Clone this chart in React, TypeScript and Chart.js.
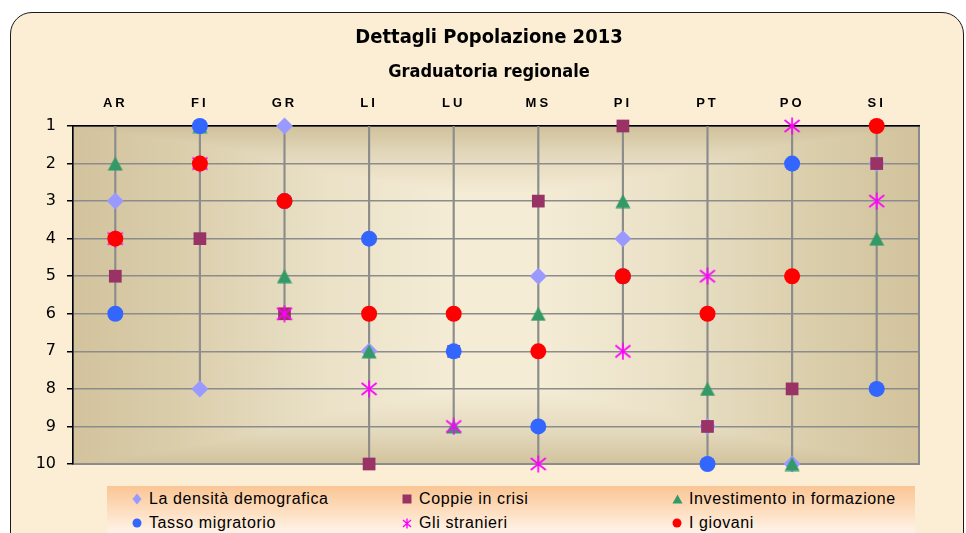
import React, { useEffect, useRef } from "react";
import { Chart, registerables } from "chart.js";

Chart.register(...registerables);

// ---------- data ----------
const regions = ["AR", "FI", "GR", "LI", "LU", "MS", "PI", "PT", "PO", "SI"];
const densita = [3, 8, 1, 7, 6, 5, 4, 9, 10, 2];
const coppie = [5, 4, 6, 10, 7, 3, 1, 9, 8, 2];
const investimento = [2, 1, 5, 7, 9, 6, 3, 8, 10, 4];
const tasso = [6, 1, 3, 4, 7, 9, 5, 10, 2, 8];
const stranieri = [4, 2, 6, 8, 9, 10, 7, 5, 1, 3];
const giovani = [4, 2, 3, 6, 6, 7, 5, 6, 5, 1];
const seriesNames = [
  "La densità demografica",
  "Coppie in crisi",
  "Investimento in formazione",
  "Tasso migratorio",
  "Gli stranieri",
  "I giovani",
];
const rankMin = 1;
const rankMax = 10;
const titleText = "Dettagli Popolazione 2013";
const subtitleText = "Graduatoria regionale";

const seriesValues = [densita, coppie, investimento, tasso, stranieri, giovani];
const seriesColors = ["#9999FF", "#993366", "#339966", "#3366FF", "#FF00FF", "#FF0000"];

function makeStar(color: string) {
  const c = document.createElement("canvas");
  c.width = 18;
  c.height = 18;
  const g = c.getContext("2d")!;
  g.strokeStyle = color;
  g.lineWidth = 1.7;
  g.beginPath();
  g.moveTo(9, 0.5);
  g.lineTo(9, 17.5);
  g.moveTo(1.5, 3);
  g.lineTo(16.5, 15);
  g.moveTo(16.5, 3);
  g.lineTo(1.5, 15);
  g.stroke();
  return c;
}

function makeTriangle(color: string) {
  const c = document.createElement("canvas");
  c.width = 16;
  c.height = 15;
  const g = c.getContext("2d")!;
  g.fillStyle = color;
  g.beginPath();
  g.moveTo(8, 0.5);
  g.lineTo(15.5, 14.5);
  g.lineTo(0.5, 14.5);
  g.closePath();
  g.fill();
  return c;
}

const plotBg = {
  id: "plotBg",
  beforeDraw(chart: any) {
    const { ctx, chartArea } = chart;
    const { left, top, right, bottom } = chartArea;
    const w = right - left;
    const h = bottom - top;
    ctx.save();
    const gh = ctx.createLinearGradient(left, 0, right, 0);
    gh.addColorStop(0, "#D2C39D");
    gh.addColorStop(0.12, "#DACDAA");
    gh.addColorStop(0.3, "#EAE1C7");
    gh.addColorStop(0.45, "#F5ECD6");
    gh.addColorStop(0.55, "#F5ECD6");
    gh.addColorStop(0.7, "#EAE1C7");
    gh.addColorStop(0.88, "#DACDAA");
    gh.addColorStop(1, "#D2C39D");
    ctx.fillStyle = gh;
    ctx.fillRect(left, top, w, h);
    ctx.globalCompositeOperation = "darken";
    const gv = ctx.createLinearGradient(0, top, 0, bottom);
    gv.addColorStop(0, "#D0C19B");
    gv.addColorStop(0.08, "#E2D7BA");
    gv.addColorStop(0.2, "#F5ECD6");
    gv.addColorStop(0.78, "#F5ECD6");
    gv.addColorStop(0.9, "#E4DABE");
    gv.addColorStop(1, "#D2C39D");
    ctx.fillStyle = gv;
    ctx.fillRect(left, top, w, h);
    ctx.globalCompositeOperation = "source-over";
    ctx.strokeStyle = "#8a8a8a";
    ctx.lineWidth = 2;
    ctx.strokeRect(left, top, w, h);
    ctx.restore();
  },
};

const xLetterSpacing = {
  id: "xLetterSpacing",
  afterDatasetsDraw(chart: any) {
    chart.ctx.letterSpacing = "3px";
  },
  afterDraw(chart: any) {
    chart.ctx.letterSpacing = "0px";
  },
};

function LegendMarker({ i }: { i: number }) {
  const c = seriesColors[i];
  if (i === 0)
    return (
      <svg width="10" height="12"><polygon points="5,0.5 9.5,6 5,11.5 0.5,6" fill={c} /></svg>
    );
  if (i === 1)
    return (
      <svg width="10" height="10"><rect x="0.5" y="0.5" width="9" height="9" fill={c} /></svg>
    );
  if (i === 2)
    return (
      <svg width="11" height="10"><polygon points="5.5,0.5 10.5,9.5 0.5,9.5" fill={c} /></svg>
    );
  if (i === 4)
    return (
      <svg width="10" height="11">
        <path d="M5 0.5 V10.5 M1 2 L9 9 M9 2 L1 9" stroke={c} strokeWidth="1.4" fill="none" />
      </svg>
    );
  return (
    <svg width="10" height="10"><circle cx="5" cy="5" r="4.5" fill={c} /></svg>
  );
}

export default function App() {
  const ref = useRef<HTMLCanvasElement>(null);

  useEffect(() => {
    const canvas = ref.current;
    if (!canvas) return;
    const styles: any[] = [
      "rectRot",
      "rect",
      makeTriangle(seriesColors[2]),
      "circle",
      makeStar(seriesColors[4]),
      "circle",
    ];
    const radii = [8.5, 9, 8, 8, 9, 8];

    const dropData = regions.map((_, i) => [
      rankMin,
      Math.max(...seriesValues.map((s) => s[i])),
    ]);

    const datasets: any[] = seriesValues.map((vals, i) => ({
      type: "line",
      label: seriesNames[i],
      data: vals,
      showLine: false,
      pointStyle: styles[i],
      pointRadius: radii[i],
      pointHoverRadius: radii[i],
      pointBackgroundColor: seriesColors[i],
      pointBorderColor: seriesColors[i],
      pointBorderWidth: 0,
      clip: false,
      order: 6 - i,
    }));
    datasets.push({
      type: "bar",
      label: "drop",
      data: dropData,
      backgroundColor: "#8c8c8c",
      barThickness: 1.5,
      order: 10,
    });

    const fontComic = "'DejaVu Sans Condensed', 'DejaVu Sans', sans-serif";

    const chart = new Chart(canvas, {
      type: "line",
      data: { labels: regions, datasets },
      options: {
        animation: false,
        responsive: false,
        maintainAspectRatio: false,
        layout: { padding: { left: 35, right: 23, top: 0, bottom: 69 } },
        plugins: {
          legend: { display: false },
          tooltip: { enabled: false },
          title: {
            display: true,
            text: titleText,
            color: "#000",
            font: { family: fontComic, size: 20, weight: "bold", lineHeight: 1.2 },
            padding: { top: 26, bottom: 0 },
          },
          subtitle: {
            display: true,
            text: subtitleText,
            color: "#000",
            font: { family: fontComic, size: 18, weight: "bold", lineHeight: 1.2 },
            padding: { top: 12, bottom: 0 },
          },
        },
        scales: {
          x: {
            type: "category",
            position: "top",
            offset: true,
            grid: { display: false, drawTicks: false },
            border: { display: true, color: "#000", width: 1.5 },
            ticks: {
              z: 1,
              color: "#000",
              padding: 15,
              autoSkip: false,
              maxRotation: 0,
              font: { family: "'Liberation Sans', Arial, sans-serif", size: 13, weight: "bold" },
            },
            afterFit: (s: any) => {
              s.height = 42.4;
            },
          },
          y: {
            type: "linear",
            position: "left",
            reverse: true,
            min: rankMin,
            max: rankMax,
            ticks: {
              stepSize: 1,
              color: "#000",
              padding: 11,
              font: { family: "'DejaVu Sans', sans-serif", size: 16 },
            },
            grid: {
              color: "#8c8c8c",
              lineWidth: 1.5,
              tickLength: 6,
              tickColor: "#000",
              tickWidth: 1.5,
            },
            border: { color: "#000", width: 1.5 },
            afterFit: (s: any) => {
              s.width = 38;
            },
          },
          yRightSpace: {
            type: "linear",
            position: "right",
            display: true,
            grid: { display: false, drawTicks: false },
            border: { display: false },
            ticks: { display: false },
            afterFit: (s: any) => {
              s.width = 24;
            },
          },
        },
      } as any,
      plugins: [plotBg, xLetterSpacing],
    });
    return () => chart.destroy();
  }, []);

  const legendCols = [42, 312, 582];
  const legendRows = [13, 37];

  return (
    <div
      style={{
        position: "absolute",
        left: 0,
        top: 0,
        width: 966,
        height: 533,
        overflow: "hidden",
        background: "#fff",
      }}
    >
      <div
        style={{
          position: "absolute",
          left: 10,
          top: 12,
          width: 954,
          height: 600,
          boxSizing: "border-box",
          border: "1.5px solid #1b1b1b",
          borderRadius: 22,
          background: "#FBEED5",
        }}
      />
      <canvas
        ref={ref}
        width={966}
        height={533}
        style={{ position: "absolute", left: 0, top: 0, width: 966, height: 533 }}
      />
      <div
        style={{
          position: "absolute",
          left: 107,
          top: 486,
          width: 808,
          height: 60,
          background: "linear-gradient(to bottom, #FAC594 0%, #FDDDBE 40%, #FFF8F0 85%, #FFFFFF 100%)",
          fontFamily: "'Liberation Sans', Arial, sans-serif",
          fontSize: 16,
          letterSpacing: "0.6px",
          color: "#000",
        }}
      >
        {seriesNames.map((name, i) => {
          const col = i % 3;
          const row = Math.floor(i / 3);
          return (
            <div
              key={name}
              style={{
                position: "absolute",
                left: legendCols[col] - 17,
                top: legendRows[row] - 10,
                height: 20,
                display: "flex",
                alignItems: "center",
                whiteSpace: "nowrap",
              }}
            >
              <div style={{ width: 17, display: "flex", justifyContent: "flex-start", alignItems: "center" }}>
                <LegendMarker i={i} />
              </div>
              <span>{name}</span>
            </div>
          );
        })}
      </div>
    </div>
  );
}
